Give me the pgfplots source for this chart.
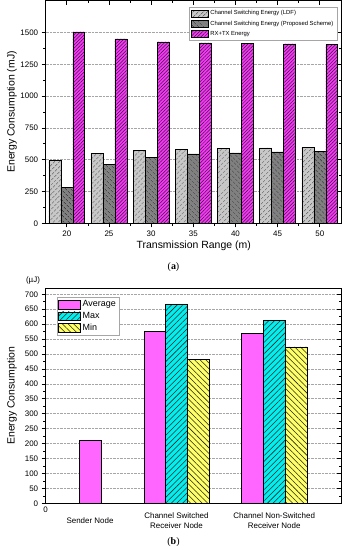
\documentclass[border=0pt]{standalone}
\usepackage{pgfplots}
\pgfplotsset{compat=1.18}
\usepackage{fontspec}
\setmainfont{Liberation Sans}
\newfontfamily\seriffont{Liberation Serif}
\usetikzlibrary{patterns.meta}
\definecolor{ldf}{HTML}{C8C8C8}
\definecolor{prop}{HTML}{808080}
\definecolor{mag}{HTML}{FF33FF}
\definecolor{avg}{HTML}{FF66FF}
\definecolor{cyn}{HTML}{00F0F0}
\definecolor{yel}{HTML}{FFFF66}
\pgfplotsset{
  boxlegend/.style={legend image code/.code={\draw[##1] (0bp,-#1) rectangle (\pgfkeysvalueof{/pgfplots/legboxw},#1);}},
  legboxw/.initial=17bp,
}
\begin{document}
\begin{tikzpicture}
\useasboundingbox (0bp,0bp) rectangle (347bp,550bp);
% ---------- top chart ----------
\begin{axis}[
  at={(45.7bp,326.7bp)}, anchor=south west, scale only axis,
  width=296bp, height=222.6bp,
  xmin=17.5, xmax=52.6, ymin=0, ymax=1750,
  xtick={20,25,...,50}, ytick={0,250,...,1500},
  minor x tick num=1, minor y tick num=1,
  xtick pos=left, ytick pos=left, tick align=outside,
  major tick length=4bp, minor tick length=2.5bp,
  tick style={black, line width=0.6bp},
  axis line style={line width=0.8bp},
  ymajorgrids, grid style={densely dotted, gray!70, line width=0.6bp},
  /pgf/number format/assume math mode=true,
  /pgf/number format/1000 sep={},
  tick label style={font=\fontsize{8}{9}\selectfont},
  ylabel={Energy Consumption (mJ)},
  xlabel={Transmission Range (m)},
  label style={font=\fontsize{10.5}{12}\selectfont},
  ylabel style={at={(axis description cs:-0.114,0.5)}, anchor=center},
  xlabel style={at={(axis description cs:0.5,-0.102)}, anchor=center},
  ybar, bar shift=0pt, bar width=1.42,
  legend cell align=left,
  legend style={at={(rel axis cs:0.984,0.972)}, anchor=north east,
    font=\fontsize{5.9}{7}\selectfont, draw=gray!70, inner sep=1.5bp,
    row sep=0.6bp, legend columns=1},
  boxlegend=3.4bp, legboxw=17bp,
]
\addplot[draw=black, line width=0.5bp, fill=ldf,
  postaction={pattern={Lines[angle=45,distance=3.6bp,line width=0.6bp]}, pattern color=black!75}]
  coordinates {(18.58,495) (23.58,550) (28.58,575) (33.58,583) (38.58,590) (43.58,592) (48.58,597)};
\addlegendentry{Channel Switching Energy (LDF)}
\addplot[draw=black, line width=0.5bp, fill=prop,
  postaction={pattern={Lines[angle=-45,distance=3.6bp,line width=0.6bp]}, pattern color=black!90}]
  coordinates {(20,285) (25,465) (30,520) (35,545) (40,553) (45,562) (50,567)};
\addlegendentry{Channel Switching Energy (Proposed Scheme)}
\addplot[draw=black, line width=0.5bp, fill=mag,
  postaction={pattern={Lines[angle=45,distance=2.4bp,line width=0.5bp]}, pattern color=black!85}]
  coordinates {(21.42,1505) (26.42,1450) (31.42,1427) (36.42,1418) (41.42,1413) (46.42,1410) (51.42,1405)};
\addlegendentry{RX+TX Energy}
\end{axis}
\begin{axis}[
  at={(45.7bp,326.7bp)}, anchor=south west, scale only axis,
  width=296bp, height=222.6bp,
  xmin=17.5, xmax=52.6, ymin=0, ymax=1750,
  xtick={20,25,...,50}, ytick={0,250,...,1500},
  minor x tick num=1, minor y tick num=1,
  xtick pos=right, ytick pos=right, tick align=inside,
  major tick length=4bp, minor tick length=2.5bp,
  tick style={black, line width=0.6bp},
  axis line style={line width=0.8bp},
  xticklabels={}, yticklabels={},
]
\end{axis}
\node[font=\seriffont\fontsize{10}{12}\selectfont] at (173.5bp,283bp) {(\textbf{a})};
% ---------- bottom chart ----------
\begin{axis}[
  at={(45.7bp,46.7bp)}, anchor=south west, scale only axis,
  width=295.3bp, height=215bp,
  xmin=0, xmax=295.3, ymin=0, ymax=720,
  ytick={0,50,...,700}, minor y tick num=1,
  xtick={44.3,130.8,228.5},
  xticklabels={Sender Node, {Channel Switched\\Receiver Node}, {Channel Non-Switched\\Receiver Node}},
  xticklabel style={align=center, anchor=center, yshift=-13.5bp, font=\fontsize{8}{10.5}\selectfont},
  extra x ticks={0}, extra x tick labels={0},
  extra x tick style={major tick length=0pt, xticklabel style={anchor=north, yshift=13.5bp, font=\fontsize{8}{9}\selectfont}},
  xtick pos=left, ytick pos=left, tick align=outside,
  major tick length=4bp, minor tick length=2.5bp,
  x tick style={draw=none},
  y tick style={black, line width=0.6bp},
  axis line style={line width=0.8bp},
  ymajorgrids, grid style={densely dotted, gray!70, line width=0.6bp},
  /pgf/number format/assume math mode=true,
  yticklabel style={font=\fontsize{8}{9}\selectfont},
  ylabel={Energy Consumption},
  label style={font=\fontsize{10.5}{12}\selectfont},
  ylabel style={at={(axis description cs:-0.114,0.5)}, anchor=center},
  ybar, bar shift=0pt, bar width=21.7,
  legend cell align=left,
  legend style={at={(rel axis cs:0.0372,0.958)}, anchor=north west,
    font=\fontsize{9}{10}\selectfont, draw=gray!70, inner sep=1.2bp,
    row sep=0bp, legend columns=1},
  boxlegend=4.4bp, legboxw=22bp,
]
\addplot[draw=black, line width=0.5bp, fill=avg]
  coordinates {(44.3,211) (109.3,575) (206.8,569)};
\addlegendentry{Average}
\addplot[draw=black, line width=0.5bp, fill=cyn,
  postaction={pattern={Lines[angle=45,distance=4bp,line width=0.55bp]}, pattern color=black!85}]
  coordinates {(130.8,666) (228.5,612)};
\addlegendentry{Max}
\addplot[draw=black, line width=0.5bp, fill=yel,
  postaction={pattern={Lines[angle=-45,distance=4bp,line width=0.55bp]}, pattern color=black!85}]
  coordinates {(152.3,482) (250.5,524)};
\addlegendentry{Min}
\end{axis}
\begin{axis}[
  at={(45.7bp,46.7bp)}, anchor=south west, scale only axis,
  width=295.3bp, height=215bp,
  xmin=0, xmax=295.3, ymin=0, ymax=720,
  ytick={0,50,...,700}, minor y tick num=1, xtick=\empty,
  ytick pos=right, tick align=inside,
  major tick length=4bp, minor tick length=2.5bp,
  tick style={black, line width=0.6bp},
  axis line style={line width=0.8bp},
  yticklabels={},
]
\end{axis}
\node[font=\fontsize{8}{9}\selectfont] at (33bp,270bp) {(µJ)};
\node[font=\seriffont\fontsize{10}{12}\selectfont] at (173.5bp,7.5bp) {(\textbf{b})};
\end{tikzpicture}
\end{document}
